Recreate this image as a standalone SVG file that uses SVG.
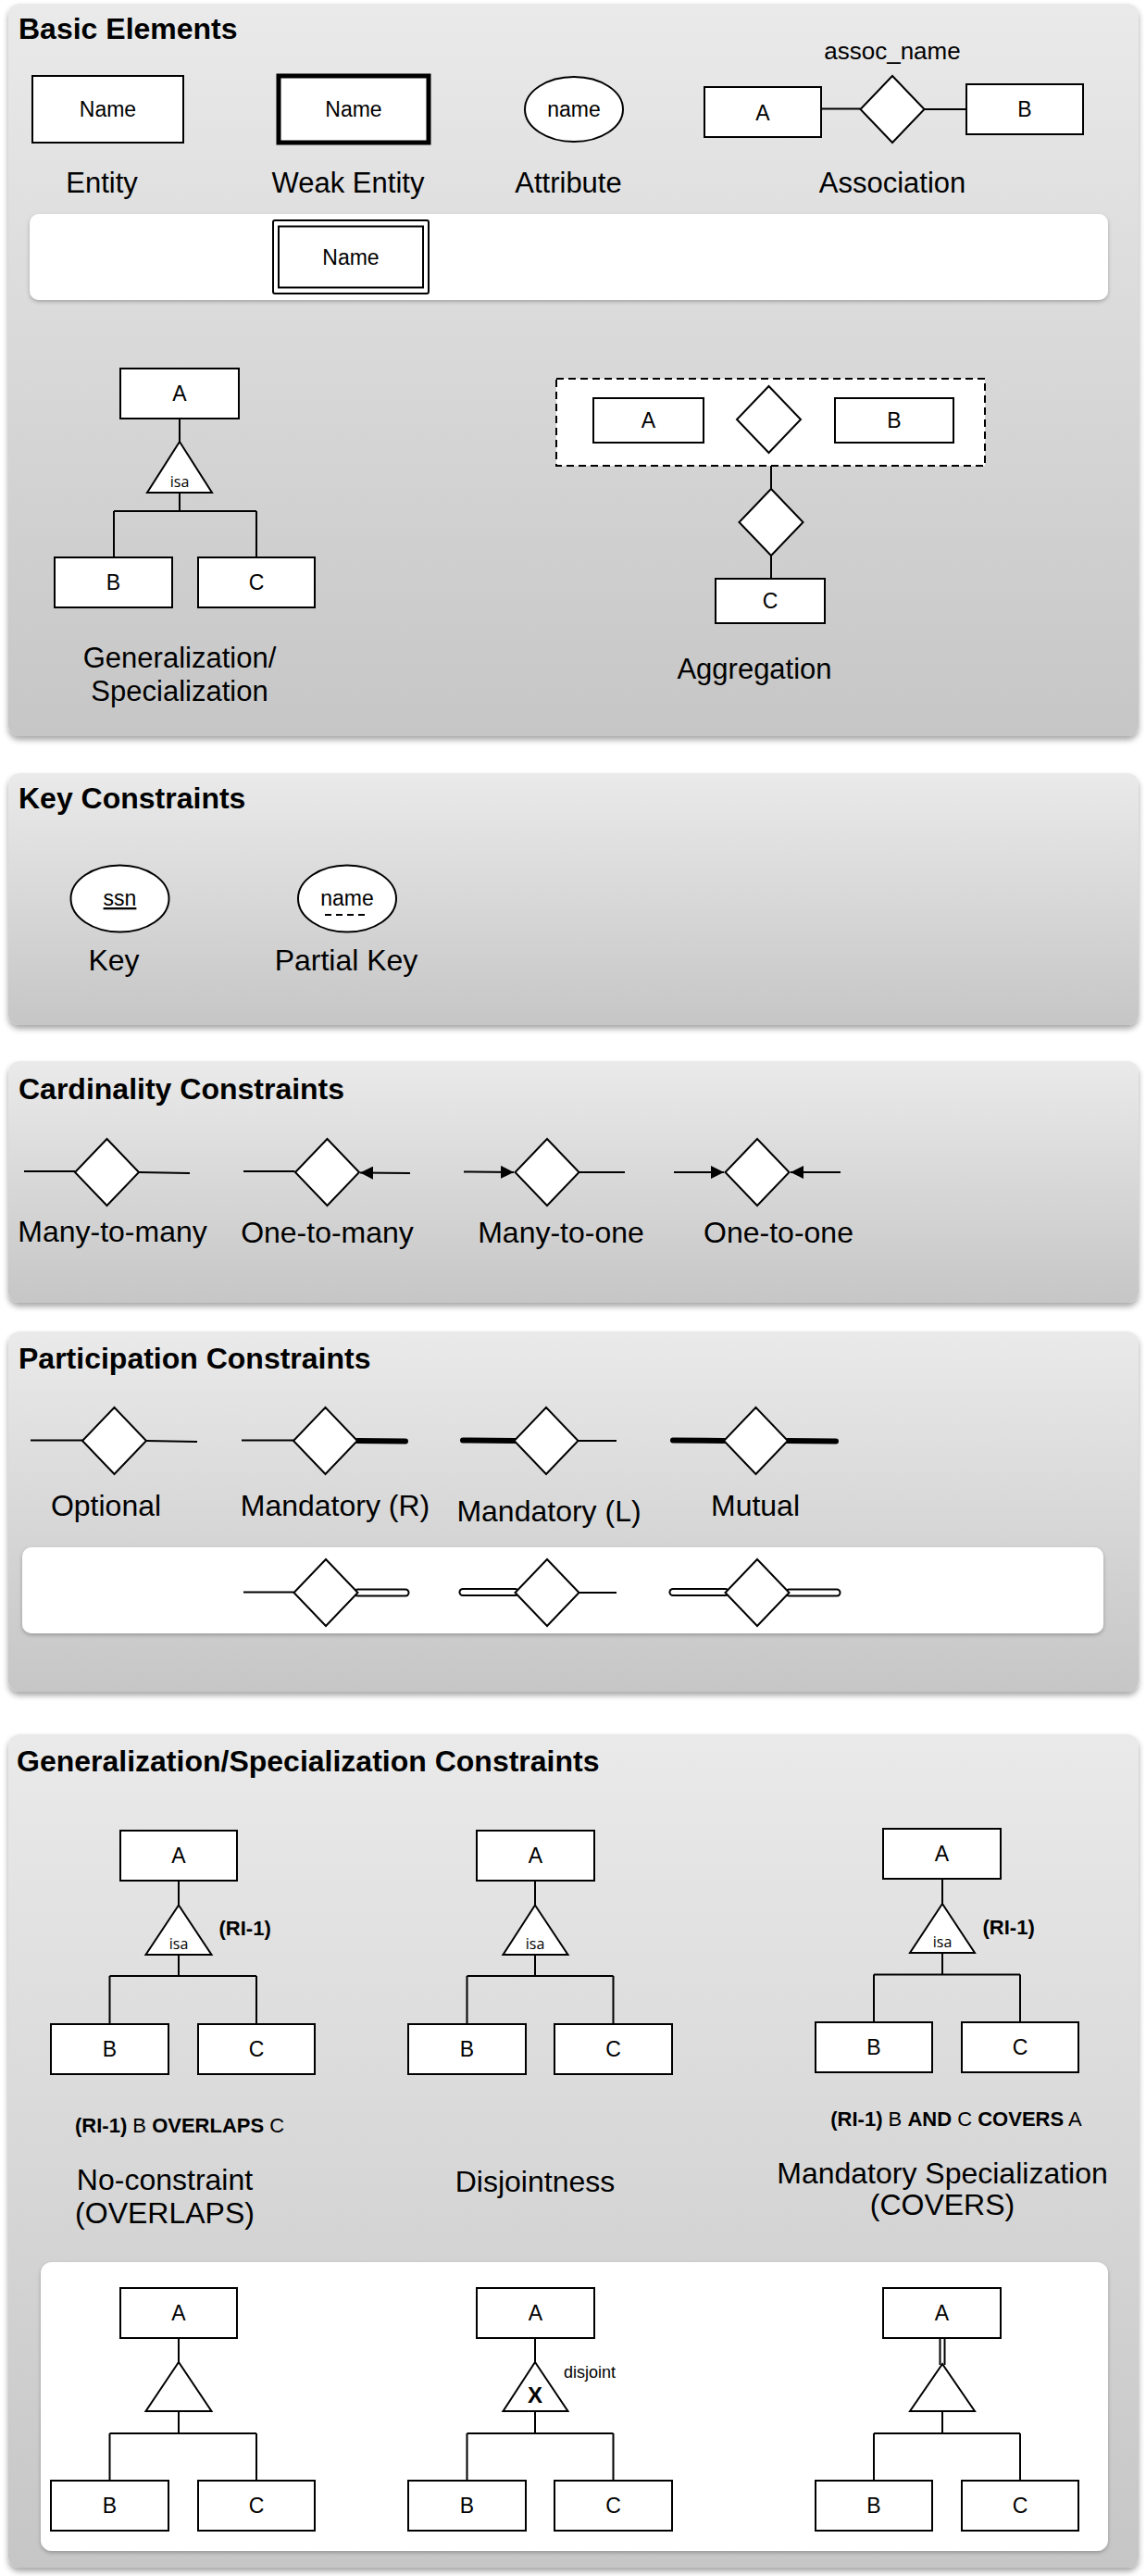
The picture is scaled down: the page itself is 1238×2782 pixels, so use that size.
<svg xmlns="http://www.w3.org/2000/svg" width="1238" height="2782" viewBox="0 0 1238 2782">
<defs>
<linearGradient id="pg" x1="0" y1="0" x2="0" y2="1">
<stop offset="0" stop-color="#eaeaea"/>
<stop offset="1" stop-color="#c6c6c6"/>
</linearGradient>
<filter id="sh" x="-5%" y="-5%" width="110%" height="115%">
<feDropShadow dx="0" dy="4" stdDeviation="3" flood-color="#000" flood-opacity="0.35"/>
</filter>
<filter id="sh2" x="-5%" y="-5%" width="110%" height="120%">
<feDropShadow dx="0" dy="2" stdDeviation="2" flood-color="#000" flood-opacity="0.25"/>
</filter>
<marker id="arr" viewBox="0 0 10 10" refX="10" refY="5" markerWidth="7" markerHeight="7" orient="auto" markerUnits="strokeWidth">
<path d="M0,0 L10,5 L0,10 z" fill="#000"/>
</marker>
<polygon id="dia" points="0,-36 34.5,0 0,36 -34.5,0"/>
</defs>
<style>
text{font-family:"Liberation Sans",Arial,Helvetica,sans-serif;fill:#000}
.panel{fill:url(#pg);filter:url(#sh)}
.band{fill:#fff;filter:url(#sh2)}
.ttl{font-size:32px;font-weight:bold}
.lbl{font-size:32px;text-anchor:middle}
.l31{font-size:31px;text-anchor:middle}
.in{font-size:23px;text-anchor:middle}
.isa{font-family:"Open Sans","Noto Sans",sans-serif;font-size:16px;text-anchor:middle}
.ri{font-size:22px}
.b{font-weight:bold}
.box{fill:#fff;stroke:#000;stroke-width:2}
.ln{fill:none;stroke:#000;stroke-width:2}
.thick{fill:none;stroke:#000;stroke-width:6;stroke-linecap:round}
.dbo{fill:none;stroke:#000;stroke-width:9;stroke-linecap:round}
.dbi{fill:none;stroke:#fff;stroke-width:5;stroke-linecap:round}
</style>

<!-- panels -->
<g id="panel-basic">
<rect class="panel" x="9" y="4" width="1221" height="791" rx="12"/>
<text class="ttl" x="20" y="42">Basic Elements</text>
<rect class="band" x="32" y="231" width="1165" height="93" rx="10"/>
</g>
<g id="panel-key">
<rect class="panel" x="9" y="835" width="1221" height="272" rx="12"/>
<text class="ttl" x="20" y="873">Key Constraints</text>
</g>
<g id="panel-card">
<rect class="panel" x="9" y="1146" width="1221" height="261" rx="12"/>
<text class="ttl" x="20" y="1187">Cardinality Constraints</text>
</g>
<g id="panel-part">
<rect class="panel" x="9" y="1438" width="1221" height="389" rx="12"/>
<text class="ttl" x="20" y="1478">Participation Constraints</text>
<rect class="band" x="24" y="1671" width="1168" height="93" rx="10"/>
</g>
<g id="panel-gen">
<rect class="panel" x="9" y="1873" width="1221" height="900" rx="12"/>
<text class="ttl" x="18" y="1913">Generalization/Specialization Constraints</text>
<rect class="band" x="44" y="2443" width="1153" height="312" rx="12"/>
</g>

<!-- connectors -->
<g id="connectors">
<!-- association -->
<path class="ln" d="M887,117.5 H929.5 M998.5,118 H1044"/>
<!-- generalization -->
<path class="ln" d="M194,452 V477 M194,532 V552 M123,552 H277 M123,552 V602 M277,552 V602"/>
<!-- aggregation -->
<path class="ln" d="M760,453 H795.5 M865.5,453 H902 M833,503 V528 M833,600 V625"/>
<!-- cardinality -->
<path class="ln" d="M26,1265 H81 M150,1266 L205,1267"/>
<path class="ln" d="M263,1265 H318.5"/>
<line class="ln" x1="443" y1="1267" x2="389" y2="1266.5" marker-end="url(#arr)"/>
<line class="ln" x1="501" y1="1265.5" x2="555" y2="1266" marker-end="url(#arr)"/>
<path class="ln" d="M625.5,1266 H675"/>
<line class="ln" x1="728" y1="1266" x2="782" y2="1266" marker-end="url(#arr)"/>
<line class="ln" x1="908" y1="1266" x2="854" y2="1266" marker-end="url(#arr)"/>
<!-- participation row 1 -->
<path class="ln" d="M33,1555.5 H89 M158,1556 L213,1557"/>
<path class="ln" d="M261,1555.5 H317"/>
<line class="thick" x1="386" y1="1556" x2="438" y2="1556.5"/>
<line class="thick" x1="500" y1="1555.5" x2="556" y2="1556"/>
<path class="ln" d="M624.5,1556 H666"/>
<line class="thick" x1="727" y1="1555.5" x2="782" y2="1556"/>
<line class="thick" x1="851" y1="1556" x2="903" y2="1556.5"/>
<!-- participation row 2 -->
<path class="ln" d="M263,1719.5 H317.5"/>
<line class="dbo" x1="386.5" y1="1720" x2="438" y2="1720"/>
<line class="dbi" x1="386.5" y1="1720" x2="438" y2="1720"/>
<line class="dbo" x1="500" y1="1719.5" x2="556.5" y2="1719.5"/>
<line class="dbi" x1="500" y1="1719.5" x2="556.5" y2="1719.5"/>
<path class="ln" d="M625.5,1720 H666"/>
<line class="dbo" x1="727" y1="1719.5" x2="783.5" y2="1719.5"/>
<line class="dbi" x1="727" y1="1719.5" x2="783.5" y2="1719.5"/>
<line class="dbo" x1="852.5" y1="1720" x2="904" y2="1720"/>
<line class="dbi" x1="852.5" y1="1720" x2="904" y2="1720"/>
<!-- gen constraints top -->
<path class="ln" d="M193,2031 V2057.5 M193,2111 V2134 M118.5,2134 H277 M118.5,2134 V2186 M277,2134 V2186"/>
<path class="ln" d="M578,2031 V2057.5 M578,2111 V2134 M504.5,2134 H662.5 M504.5,2134 V2186 M662.5,2134 V2186"/>
<path class="ln" d="M1018,2029 V2056 M1018,2109 V2132.5 M944,2132.5 H1102 M944,2132.5 V2184 M1102,2132.5 V2184"/>
<!-- gen constraints bottom -->
<path class="ln" d="M193,2525 V2551 M193,2604 V2628 M118.5,2628 H277 M118.5,2628 V2679 M277,2628 V2679"/>
<path class="ln" d="M578,2525 V2551 M578,2604 V2628 M504.5,2628 H662.5 M504.5,2628 V2679 M662.5,2628 V2679"/>
<path class="ln" d="M1015.5,2525 V2554 M1020.5,2525 V2554 M1018,2604 V2628 M944,2628 H1102 M944,2628 V2679 M1102,2628 V2679"/>
</g>

<!-- Basic elements nodes -->
<g id="entity">
<rect class="box" x="35" y="82" width="163" height="72"/>
<text class="in" x="116.5" y="126">Name</text>
<text class="l31" x="110" y="208">Entity</text>
</g>
<g id="weak-entity">
<rect class="box" x="301" y="82" width="162" height="72" style="stroke-width:5"/>
<text class="in" x="382" y="126">Name</text>
<text class="l31" x="376" y="208">Weak Entity</text>
</g>
<g id="attribute">
<ellipse class="box" cx="620" cy="118" rx="53" ry="35"/>
<text class="in" x="620" y="126">name</text>
<text class="l31" x="614" y="208">Attribute</text>
</g>
<g id="assoc-a">
<rect class="box" x="761" y="94" width="126" height="54"/>
<text class="in" x="824" y="130">A</text>
</g>
<g id="assoc-rel">
<use href="#dia" class="box" x="964" y="118"/>
<text class="in" x="964" y="64" style="font-size:26px">assoc_name</text>
<text class="l31" x="964" y="208">Association</text>
</g>
<g id="assoc-b">
<rect class="box" x="1044" y="91" width="126" height="54"/>
<text class="in" x="1107" y="126">B</text>
</g>
<g id="weak-entity-alt">
<rect class="box" x="295" y="238" width="168" height="79" rx="2"/>
<rect class="box" x="301" y="244.5" width="156" height="66"/>
<text class="in" x="379" y="286">Name</text>
</g>

<g id="gen-a">
<rect class="box" x="130" y="398" width="128" height="54"/>
<text class="in" x="194" y="433">A</text>
</g>
<g id="gen-isa">
<polygon class="box" points="194,477 159,532 229,532"/>
<text class="isa" x="194" y="526">isa</text>
</g>
<g id="gen-b">
<rect class="box" x="59" y="602" width="127" height="54"/>
<text class="in" x="122.5" y="637">B</text>
</g>
<g id="gen-c">
<rect class="box" x="214" y="602" width="126" height="54"/>
<text class="in" x="277" y="637">C</text>
</g>
<g id="gen-label">
<text class="l31" x="194" y="721">Generalization/</text>
<text class="l31" x="194" y="757">Specialization</text>
</g>

<g id="agg-box">
<rect x="601" y="409" width="463" height="94" fill="#fff" stroke="#000" stroke-width="2" stroke-dasharray="8,5"/>
</g>
<g id="agg-a">
<rect class="box" x="641" y="430" width="119" height="48"/>
<text class="in" x="700.5" y="462">A</text>
</g>
<g id="agg-rel">
<use href="#dia" class="box" x="830.5" y="453"/>
</g>
<g id="agg-b">
<rect class="box" x="902" y="430" width="128" height="48"/>
<text class="in" x="966" y="462">B</text>
</g>
<g id="agg-rel2">
<use href="#dia" class="box" x="833" y="564"/>
</g>
<g id="agg-c">
<rect class="box" x="773" y="625" width="118" height="48"/>
<text class="in" x="832" y="657">C</text>
<text class="l31" x="815" y="733">Aggregation</text>
</g>

<!-- Key constraints -->
<g id="key">
<ellipse class="box" cx="129.5" cy="970.5" rx="53" ry="36"/>
<text class="in" x="129.5" y="978" text-decoration="underline">ssn</text>
<text class="lbl" x="123" y="1048">Key</text>
</g>
<g id="partial-key">
<ellipse class="box" cx="375" cy="970.5" rx="53" ry="36"/>
<text class="in" x="375" y="978">name</text>
<path d="M351,988 H397" stroke="#000" stroke-width="2" stroke-dasharray="7,5"/>
<text class="lbl" x="374" y="1048">Partial Key</text>
</g>

<!-- Cardinality -->
<g id="card-mm">
<use href="#dia" class="box" x="115.5" y="1266"/>
<text class="lbl" x="121.5" y="1341">Many-to-many</text>
</g>
<g id="card-om">
<use href="#dia" class="box" x="353.5" y="1266"/>
<text class="lbl" x="353.5" y="1342">One-to-many</text>
</g>
<g id="card-mo">
<use href="#dia" class="box" x="591" y="1266"/>
<text class="lbl" x="606" y="1342">Many-to-one</text>
</g>
<g id="card-oo">
<use href="#dia" class="box" x="818" y="1266"/>
<text class="lbl" x="841" y="1342">One-to-one</text>
</g>

<!-- Participation -->
<g id="part-opt">
<use href="#dia" class="box" x="123.5" y="1556"/>
<text class="lbl" x="114.5" y="1637">Optional</text>
</g>
<g id="part-mr">
<use href="#dia" class="box" x="351.5" y="1556"/>
<text class="lbl" x="362" y="1637">Mandatory (R)</text>
</g>
<g id="part-ml">
<use href="#dia" class="box" x="590" y="1556"/>
<text class="lbl" x="593" y="1643">Mandatory (L)</text>
</g>
<g id="part-mu">
<use href="#dia" class="box" x="816.5" y="1556"/>
<text class="lbl" x="816" y="1637">Mutual</text>
</g>
<g id="part-mr2">
<use href="#dia" class="box" x="352" y="1720"/>
</g>
<g id="part-ml2">
<use href="#dia" class="box" x="591" y="1720"/>
</g>
<g id="part-mu2">
<use href="#dia" class="box" x="818" y="1720"/>
</g>

<!-- Gen/Spec constraints: top row -->
<g id="ov-a">
<rect class="box" x="130" y="1977" width="126" height="54"/>
<text class="in" x="193" y="2012">A</text>
</g>
<g id="ov-isa">
<polygon class="box" points="193,2057.5 157.5,2111 228.5,2111"/>
<text class="isa" x="193" y="2105">isa</text>
<text class="ri b" x="236.5" y="2090">(RI-1)</text>
</g>
<g id="ov-b">
<rect class="box" x="55" y="2186" width="127" height="54"/>
<text class="in" x="118.5" y="2221">B</text>
</g>
<g id="ov-c">
<rect class="box" x="214" y="2186" width="126" height="54"/>
<text class="in" x="277" y="2221">C</text>
</g>
<g id="ov-label">
<text class="ri" x="81" y="2303"><tspan class="b">(RI-1)</tspan> B <tspan class="b">OVERLAPS</tspan> C</text>
<text class="lbl" x="178" y="2365">No-constraint</text>
<text class="lbl" x="178" y="2401">(OVERLAPS)</text>
</g>

<g id="dj-a">
<rect class="box" x="515" y="1977" width="127" height="54"/>
<text class="in" x="578.5" y="2012">A</text>
</g>
<g id="dj-isa">
<polygon class="box" points="578,2057.5 543.5,2111 613.5,2111"/>
<text class="isa" x="578" y="2105">isa</text>
</g>
<g id="dj-b">
<rect class="box" x="441" y="2186" width="127" height="54"/>
<text class="in" x="504.5" y="2221">B</text>
</g>
<g id="dj-c">
<rect class="box" x="599" y="2186" width="127" height="54"/>
<text class="in" x="662.5" y="2221">C</text>
</g>
<g id="dj-label">
<text class="lbl" x="578" y="2367">Disjointness</text>
</g>

<g id="cv-a">
<rect class="box" x="954" y="1975" width="127" height="54"/>
<text class="in" x="1017.5" y="2010">A</text>
</g>
<g id="cv-isa">
<polygon class="box" points="1018,2056 983,2109 1053,2109"/>
<text class="isa" x="1018" y="2103">isa</text>
<text class="ri b" x="1061.5" y="2089">(RI-1)</text>
</g>
<g id="cv-b">
<rect class="box" x="881" y="2184" width="126" height="54"/>
<text class="in" x="944" y="2219">B</text>
</g>
<g id="cv-c">
<rect class="box" x="1039" y="2184" width="126" height="54"/>
<text class="in" x="1102" y="2219">C</text>
</g>
<g id="cv-label">
<text class="ri" x="1033" y="2296" text-anchor="middle"><tspan class="b">(RI-1)</tspan> B <tspan class="b">AND</tspan> C <tspan class="b">COVERS</tspan> A</text>
<text class="lbl" x="1018" y="2358">Mandatory Specialization</text>
<text class="lbl" x="1018" y="2392">(COVERS)</text>
</g>

<!-- Gen/Spec constraints: bottom row -->
<g id="ov2-a">
<rect class="box" x="130" y="2471" width="126" height="54"/>
<text class="in" x="193" y="2506">A</text>
</g>
<g id="ov2-tri">
<polygon class="box" points="193,2551 157.5,2604 228.5,2604"/>
</g>
<g id="ov2-b">
<rect class="box" x="55" y="2679" width="127" height="54"/>
<text class="in" x="118.5" y="2714">B</text>
</g>
<g id="ov2-c">
<rect class="box" x="214" y="2679" width="126" height="54"/>
<text class="in" x="277" y="2714">C</text>
</g>

<g id="dj2-a">
<rect class="box" x="515" y="2471" width="127" height="54"/>
<text class="in" x="578.5" y="2506">A</text>
</g>
<g id="dj2-tri">
<polygon class="box" points="578,2551 543.5,2604 613.5,2604"/>
<text class="b" x="578" y="2595" text-anchor="middle" style="font-size:24px">X</text>
<text x="609" y="2568" style="font-size:18px">disjoint</text>
</g>
<g id="dj2-b">
<rect class="box" x="441" y="2679" width="127" height="54"/>
<text class="in" x="504.5" y="2714">B</text>
</g>
<g id="dj2-c">
<rect class="box" x="599" y="2679" width="127" height="54"/>
<text class="in" x="662.5" y="2714">C</text>
</g>

<g id="cv2-a">
<rect class="box" x="954" y="2471" width="127" height="54"/>
<text class="in" x="1017.5" y="2506">A</text>
</g>
<g id="cv2-tri">
<polygon class="box" points="1018,2553 983,2604 1053,2604"/>
</g>
<g id="cv2-b">
<rect class="box" x="881" y="2679" width="126" height="54"/>
<text class="in" x="944" y="2714">B</text>
</g>
<g id="cv2-c">
<rect class="box" x="1039" y="2679" width="126" height="54"/>
<text class="in" x="1102" y="2714">C</text>
</g>
</svg>
